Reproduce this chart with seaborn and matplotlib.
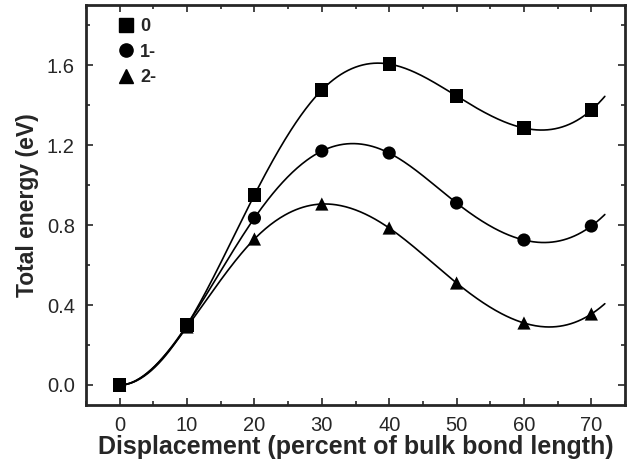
import numpy as np
import pandas as pd
import matplotlib
matplotlib.use('Agg')
import matplotlib.pyplot as plt
import seaborn as sns
from matplotlib.ticker import MultipleLocator, FormatStrFormatter
from matplotlib.lines import Line2D

# Data
displacement = [0, 10, 20, 30, 40, 50, 60, 70]
energy_0 = [0.0, 0.30, 0.95, 1.475, 1.605, 1.445, 1.285, 1.375]
energy_1 = [0.0, 0.30, 0.835, 1.17, 1.16, 0.91, 0.725, 0.795]
energy_2 = [0.0, 0.29, 0.73, 0.905, 0.785, 0.51, 0.31, 0.355]
labels = ['0', '1-', '2-']
markers = ['s', 'o', '^']


def spline(x, y, xs):
    # cubic spline: zero slope at the left end, not-a-knot at the right end
    x = np.asarray(x, float)
    y = np.asarray(y, float)
    n = len(x)
    h = np.diff(x)
    A = np.zeros((n, n))
    b = np.zeros(n)
    A[0, 0] = 2 * h[0]
    A[0, 1] = h[0]
    b[0] = 6 * (y[1] - y[0]) / h[0]
    for i in range(1, n - 1):
        A[i, i - 1] = h[i - 1]
        A[i, i] = 2 * (h[i - 1] + h[i])
        A[i, i + 1] = h[i]
        b[i] = 6 * ((y[i + 1] - y[i]) / h[i] - (y[i] - y[i - 1]) / h[i - 1])
    A[-1, -3] = h[-1]
    A[-1, -2] = -(h[-2] + h[-1])
    A[-1, -1] = h[-2]
    M = np.linalg.solve(A, b)
    idx = np.clip(np.searchsorted(x, xs) - 1, 0, n - 2)
    x0, x1 = x[idx], x[idx + 1]
    hh = x1 - x0
    t0 = x1 - xs
    t1 = xs - x0
    return (M[idx] * t0 ** 3 / (6 * hh) + M[idx + 1] * t1 ** 3 / (6 * hh)
            + (y[idx] / hh - M[idx] * hh / 6) * t0
            + (y[idx + 1] / hh - M[idx + 1] * hh / 6) * t1)


sns.set_style('ticks')
plt.rcParams['font.family'] = ['Liberation Sans', 'DejaVu Sans']

fig = plt.figure(figsize=(6.32, 4.61), dpi=100)
ax = fig.add_axes([0.136, 0.1215, 0.853, 0.8675])

xs = np.linspace(0, 72, 400)
points = []
for lab, m, ys in zip(labels, markers, [energy_0, energy_1, energy_2]):
    curve = pd.DataFrame({'x': xs, 'y': spline(displacement, ys, xs)})
    sns.lineplot(data=curve, x='x', y='y', ax=ax, color='black', lw=1.2)
    points.append(pd.DataFrame({'x': displacement, 'y': ys, 'charge': lab}))

pts = pd.concat(points)
sns.scatterplot(data=pts, x='x', y='y', style='charge', markers=dict(zip(labels, markers)),
                color='black', s=90, edgecolor='black', linewidth=0, ax=ax, legend=False,
                zorder=3)

handles = [Line2D([], [], marker=m, color='black', ls='none', markersize=9.5)
           for m in markers]
ax.legend(handles, labels, loc='upper left', frameon=False,
          bbox_to_anchor=(0.01, 1.008), handletextpad=-0.2, labelspacing=0.47,
          prop={'weight': 'bold', 'size': 13})

ax.set_xlim(-5, 75)
ax.set_ylim(-0.1, 1.9)
ax.xaxis.set_major_locator(MultipleLocator(10))
ax.xaxis.set_minor_locator(MultipleLocator(5))
ax.yaxis.set_major_locator(MultipleLocator(0.4))
ax.yaxis.set_minor_locator(MultipleLocator(0.2))
ax.yaxis.set_major_formatter(FormatStrFormatter('%.1f'))
ax.tick_params(which='both', direction='in', top=True, right=True, width=1.2)
ax.tick_params(which='major', length=5, labelsize=14.5, pad=8)
ax.tick_params(which='minor', length=3)
for s in ax.spines.values():
    s.set_linewidth(2)
    s.set_visible(True)

ax.set_xlabel('Displacement (percent of bulk bond length)', fontsize=18,
              fontweight='bold', labelpad=0)
ax.set_ylabel('Total energy (eV)', fontsize=16.5, fontweight='bold', labelpad=6)

fig.savefig('out.png', dpi=100)
